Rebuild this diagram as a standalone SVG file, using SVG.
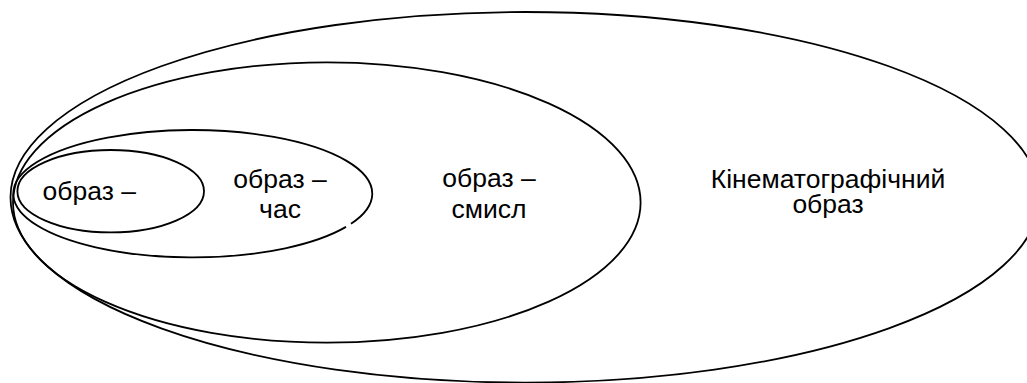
<svg xmlns="http://www.w3.org/2000/svg" width="1027" height="383" viewBox="0 0 1027 383">
<style>
.e{fill:none;stroke:#000;stroke-width:1.8}
.t{font-family:"Liberation Sans",Arial,sans-serif;font-size:26.5px;fill:#000;text-anchor:middle}
</style>
<rect width="1027" height="383" fill="#fff"/>
<g id="kino">
<ellipse class="e" cx="525" cy="197.3" rx="514.5" ry="185.3"/>
<text class="t" x="828" y="187.5">Кінематографічний</text>
<text class="t" x="828" y="212.5">образ</text>
</g>
<g id="smysl">
<ellipse class="e" cx="326.8" cy="202.5" rx="313.8" ry="140.2"/>
<text class="t" x="489" y="187">образ –</text>
<text class="t" x="489" y="217.5">смисл</text>
</g>
<g id="chas">
<path class="e" d="M 351,223.8 A 179.5 63.7 0 1 0 346,226.9"/>
<text class="t" x="280" y="187.5">образ –</text>
<text class="t" x="280" y="218.3">час</text>
</g>
<g id="obraz">
<ellipse class="e" cx="110.7" cy="191.2" rx="93.3" ry="41.2"/>
<text class="t" x="89.3" y="200">образ –</text>
</g>
<g id="connectors"></g>
</svg>
